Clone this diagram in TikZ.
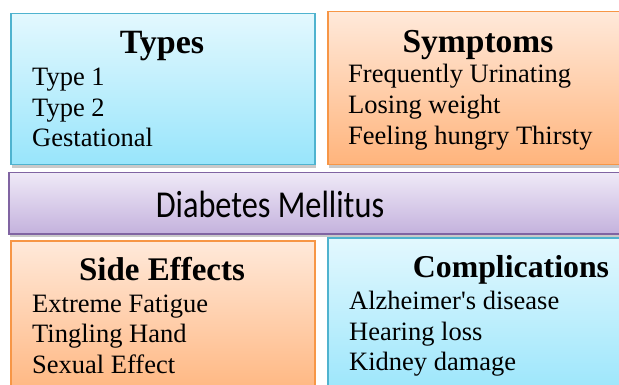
\documentclass[tikz,border=0pt]{standalone}
\usepackage{fontspec}
\setmainfont{Liberation Serif}
\newfontfamily\calib{Carlito}
\usetikzlibrary{shadows}
\newcommand{\straightquote}{\XeTeXglyph\XeTeXglyphindex "quotesingle"\relax}
\definecolor{cyanTop}{HTML}{E3F8FE}
\definecolor{cyanBot}{HTML}{98E5FB}
\definecolor{cyanLine}{HTML}{4FB3CF}
\definecolor{orTop}{HTML}{FFE9DA}
\definecolor{orBot}{HTML}{FFB47C}
\definecolor{orLine}{HTML}{F79646}
\definecolor{puTop}{HTML}{EFE9F7}
\definecolor{puBot}{HTML}{C4B2DD}
\definecolor{puLine}{HTML}{8064A2}
\tikzset{
  panel/.style={rectangle, anchor=north west, inner sep=0pt, line width=1.5pt,
    drop shadow={shadow xshift=1.5pt, shadow yshift=-3pt, opacity=0.35, fill=black!60}},
  bluepanel/.style={panel, draw=cyanLine, top color=cyanTop, bottom color=cyanBot},
  orangepanel/.style={panel, draw=orLine, top color=orTop, bottom color=orBot},
  purplepanel/.style={panel, draw=puLine, top color=puTop, bottom color=puBot},
  title/.style={anchor=base, inner sep=0pt, font=\fontsize{#1}{36}\selectfont\bfseries},
  title/.default=33,
  item/.style={anchor=base west, inner sep=0pt, font=\fontsize{26.5}{30}\selectfont},
  centre/.style={anchor=base, inner sep=0pt, font=\calib\fontsize{38}{42}\selectfont}
}
\begin{document}
\begin{tikzpicture}[x=1pt,y=-1pt]
\useasboundingbox (0,0) rectangle (619,385);
\clip (0,0) rectangle (619,385);
\fill[white] (0,0) rectangle (619,385);
% top panels
\node[bluepanel, minimum width=304pt, minimum height=151pt] (types) at (10,13) {};
\node[orangepanel, minimum width=303pt, minimum height=153pt] (symptoms) at (327,11) {};
% centre
\node[purplepanel, minimum width=622pt, minimum height=61pt] (dm) at (8,172) {};
% bottom panels
\node[orangepanel, minimum width=304pt, minimum height=160pt] (side) at (10,240) {};
\node[bluepanel, minimum width=303pt, minimum height=163pt] (compl) at (327,237) {};
% texts
\node[title=34] (typesT) at (162,54) {Types};
\node[item] (t1) at (32,86) {Type 1};
\node[item] (t2) at (32,117) {Type 2};
\node[item] (t3) at (32,147) {Gestational};
\node[title=33.5] (sympT) at (478,53) {Symptoms};
\node[item] (s1) at (348,83) {Frequently Urinating};
\node[item] (s2) at (348,114) {Losing weight};
\node[item] (s3) at (348,145) {Feeling hungry Thirsty};
\node[centre] (dmT) at (270,218) {\scalebox{0.85}[1]{Diabetes Mellitus}};
\node[title=33] (sideT) at (162,280) {Side Effects};
\node[item] (e1) at (32,312) {Extreme Fatigue};
\node[item] (e2) at (32,342) {Tingling Hand};
\node[item] (e3) at (32,373) {Sexual Effect};
\node[title=31.8] (complT) at (511,277) {Complications};
\node[item] (c1) at (349,309) {Alzheimer\straightquote s disease};
\node[item] (c2) at (349,340) {Hearing loss};
\node[item] (c3) at (349,370) {Kidney damage};
\end{tikzpicture}
\end{document}
